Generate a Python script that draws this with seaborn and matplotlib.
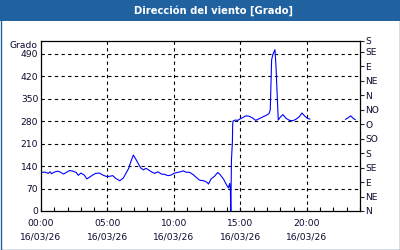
import numpy as np
import pandas as pd
import matplotlib
matplotlib.use("Agg")
import matplotlib.pyplot as plt
from matplotlib.patches import Rectangle
from matplotlib.ticker import MultipleLocator
import seaborn as sns

# ---- data (hours since 00:00 of 16/03/26, wind direction in degrees) ----
hours_a = [0.0, 0.3, 0.55, 0.68, 0.8, 1.0, 1.25, 1.45, 1.7, 1.9, 2.15, 2.4, 2.65, 2.8,
           3.0, 3.25, 3.45, 3.75, 4.1, 4.4, 4.65, 4.95, 5.15, 5.4, 5.6, 5.93, 6.2, 6.4,
           6.6, 6.78, 6.95, 7.15, 7.35, 7.5, 7.7, 7.9, 8.3, 8.55, 8.8, 9.05, 9.3, 9.55,
           9.8, 10.0, 10.25, 10.5, 10.7, 10.9, 11.2, 11.45, 11.7, 11.93, 12.25, 12.5,
           12.6, 12.8, 13.05, 13.3, 13.5, 13.75, 13.95, 14.1, 14.2, 14.25, 14.28, 14.33,
           14.4, 14.42, 14.45, 14.6, 14.8, 14.95, 15.15, 15.4, 15.65, 15.9, 16.15, 16.45,
           16.7, 16.95, 17.15, 17.25, 17.35, 17.45, 17.6, 17.68, 17.75, 17.85, 18.0, 18.2,
           18.45, 18.7, 18.95, 19.2, 19.45, 19.63, 19.85, 20.05, 20.25]
values_a = [120, 121, 117, 122, 116, 121, 124, 121, 115, 120, 126, 124, 120, 111,
            118, 112, 100, 108, 117, 118, 112, 107, 108, 110, 102, 94, 103, 118,
            133, 156, 174, 160, 145, 134, 128, 133, 122, 117, 122, 115, 114, 110,
            112, 117, 120, 122, 125, 121, 120, 113, 104, 96, 94, 89,
            84, 100, 108, 120, 112, 98, 82, 72, 86, 62, 0, 160,
            215, 270, 280, 283, 282, 286, 290, 296, 295, 290, 282, 288,
            293, 298, 303, 315, 470, 488, 502, 450, 380, 283, 292, 300,
            288, 282, 281, 286, 294, 305, 295, 288, 286]
hours_b = [22.9, 23.1, 23.3, 23.5, 23.65]
values_b = [285, 290, 296, 288, 284]

left_ticks = [0, 70, 140, 210, 280, 350, 420, 490]
right_ticks = [0, 45, 90, 135, 180, 225, 270, 315, 360, 405, 450, 495, 529]
right_labels = ["N", "NE", "E", "SE", "S", "SO", "O", "NO", "N", "NE", "E", "SE", "S"]
x_ticks = [0, 5, 10, 15, 20]
x_labels = ["00:00\n16/03/26", "05:00\n16/03/26", "10:00\n16/03/26",
            "15:00\n16/03/26", "20:00\n16/03/26"]
title = "Dirección del viento [Grado]"
unit_label = "Grado"

df = pd.DataFrame({
    "hour": hours_a + hours_b,
    "value": values_a + values_b,
    "seg": ["a"] * len(hours_a) + ["b"] * len(hours_b),
})

sns.set_style("white")
plt.rcParams["font.family"] = ["DejaVu Sans", "Liberation Sans"]
txt = "#0a0a30"
blue = "#2062a0"
fs = 6.6

fig = plt.figure(figsize=(4, 2.5), dpi=100)
fig.patch.set_facecolor("white")
ax = fig.add_axes([41 / 400, 1 - 211 / 250, 319 / 400, 170 / 250])

sns.lineplot(data=df, x="hour", y="value", units="seg", estimator=None,
             color="#0000ff", linewidth=0.8, ax=ax, legend=False)

ax.set_xlim(0, 24)
ax.set_ylim(0, 529)
ax.set_xlabel("")
ax.set_ylabel("")

ax.set_yticks(left_ticks)
ax.set_yticklabels([str(v) for v in left_ticks])
ax.set_xticks(x_ticks)
ax.set_xticklabels(x_labels, linespacing=1.6)
ax.xaxis.set_minor_locator(MultipleLocator(1))
ax.tick_params(axis="x", which="both", direction="in", length=3, width=0.8,
               labelsize=fs, colors="black", labelcolor=txt, pad=6, bottom=True)
ax.tick_params(axis="y", which="both", length=0, labelsize=fs, labelcolor=txt, pad=2)

for v in left_ticks[1:]:
    ax.axhline(v, color="black", linestyle=(0, (3, 3)), linewidth=0.8, zorder=0)
for v in x_ticks[1:]:
    ax.axvline(v, color="black", linestyle=(0, (3, 3)), linewidth=0.8, zorder=0)

for s in ax.spines.values():
    s.set_visible(True)
    s.set_color("black")
    s.set_linewidth(0.9)

ax2 = ax.twinx()
ax2.set_ylim(0, 529)
ax2.set_yticks(right_ticks)
ax2.set_yticklabels(right_labels)
ax2.tick_params(axis="y", direction="out", length=3, width=0.8, labelsize=fs,
                labelcolor=txt, pad=1)
for s in ax2.spines.values():
    s.set_visible(False)

ax.text(-0.012, 1 - 5 / 170, unit_label, transform=ax.transAxes, ha="right",
        va="center", fontsize=fs, color=txt)

# title bar and border
fig.patches.append(Rectangle((0, 1 - 21 / 250), 1, 21 / 250, transform=fig.transFigure,
                             facecolor=blue, edgecolor="none", zorder=0))
fig.patches.append(Rectangle((0.5 / 400, 0.5 / 250), 399 / 400, 249 / 250,
                             transform=fig.transFigure, facecolor="none",
                             edgecolor=blue, linewidth=1.0, zorder=5))
fig.text(213 / 400, 1 - 11 / 250, title, ha="center", va="center", color="white",
         fontsize=7.2, fontweight="bold")

fig.savefig("out.png", dpi=100)
